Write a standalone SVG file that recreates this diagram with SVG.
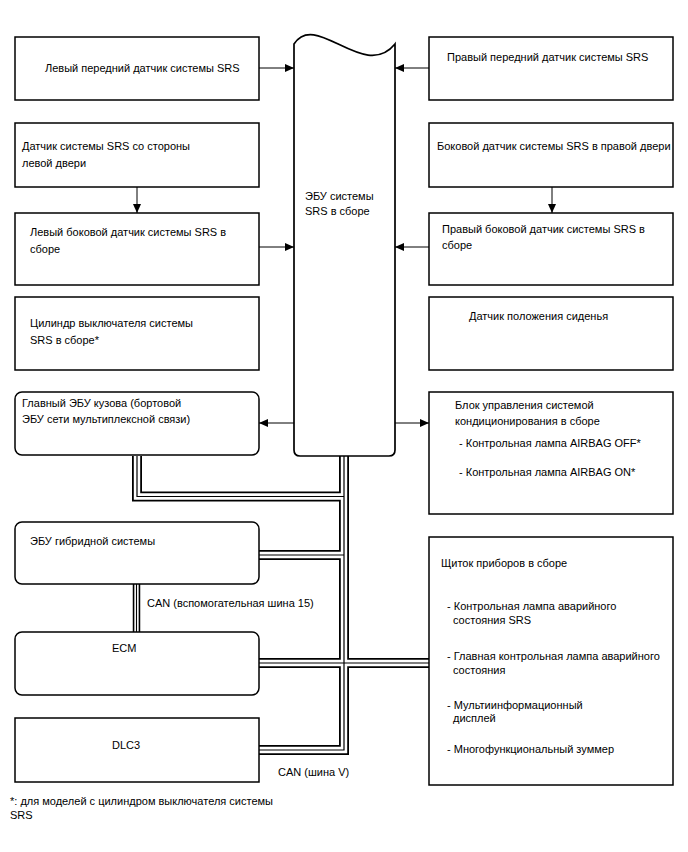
<svg xmlns="http://www.w3.org/2000/svg" xmlns:xlink="http://www.w3.org/1999/xlink" width="688" height="852" viewBox="0 0 688 852">
<style>
text{font-family:"Liberation Sans",Arial,sans-serif;font-size:11px;fill:#000}
.box{fill:#fff;stroke:#000;stroke-width:1.5}
.arr{stroke:#000;stroke-width:1;fill:none;marker-end:url(#ah)}
.bo{fill:none;stroke:#000;stroke-width:10;stroke-linejoin:miter}
.bi{fill:none;stroke:#fff;stroke-width:6.4;stroke-linejoin:miter}
.bc{fill:none;stroke:#000;stroke-width:1.2;stroke-linejoin:miter}
.to{fill:none;stroke:#000;stroke-width:7.5}
.ti{fill:none;stroke:#fff;stroke-width:4.3}
.tc{fill:none;stroke:#000;stroke-width:1.1}
</style>
<defs>
<marker id="ah" markerWidth="10" markerHeight="8" refX="9" refY="4" orient="auto" markerUnits="userSpaceOnUse">
<path d="M0,0 L9,4 L0,8 Z" fill="#000"/>
</marker>
<path id="b1" d="M137,456 V496.5 H344"/>
<path id="b2" d="M344,456 V750 H259"/>
<path id="b3" d="M259,555 H344"/>
<path id="b4" d="M259,663 H429"/>
<path id="b5" d="M136.5,584 V632"/>
</defs>

<g id="connectors">
<g id="bus">
<use xlink:href="#b1" class="bo"/><use xlink:href="#b2" class="bo"/><use xlink:href="#b3" class="bo"/><use xlink:href="#b4" class="bo"/>
<use xlink:href="#b5" class="to"/>
<use xlink:href="#b1" class="bi"/><use xlink:href="#b2" class="bi"/><use xlink:href="#b3" class="bi"/><use xlink:href="#b4" class="bi"/>
<use xlink:href="#b5" class="ti"/>
<use xlink:href="#b1" class="bc"/><use xlink:href="#b2" class="bc"/><use xlink:href="#b3" class="bc"/><use xlink:href="#b4" class="bc"/>
<use xlink:href="#b5" class="tc"/>
</g>
<line class="arr" x1="259" y1="68" x2="294" y2="68"/>
<line class="arr" x1="429" y1="68" x2="395" y2="68"/>
<line class="arr" x1="137" y1="187" x2="137" y2="213"/>
<line class="arr" x1="552" y1="187" x2="552" y2="213"/>
<line class="arr" x1="259" y1="247" x2="294" y2="247"/>
<line class="arr" x1="429" y1="247" x2="395" y2="247"/>
<line class="arr" x1="294" y1="423" x2="259" y2="423"/>
<line class="arr" x1="395" y1="423" x2="429" y2="423"/>
<text x="147" y="607">CAN (вспомогательная шина 15)</text>
<text x="278" y="776">CAN (шина V)</text>
</g>

<g id="srs-ecu">
<path class="box" d="M294,44 C316,10 364,82 395,44 V450 Q395,456 389,456 H300 Q294,456 294,450 Z" style="stroke-width:1.7"/>
<text x="305" y="200">ЭБУ системы</text>
<text x="305" y="215">SRS в сборе</text>
</g>

<g id="l1"><rect class="box" x="15" y="37" width="244" height="63"/><text x="45" y="72">Левый передний датчик системы SRS</text></g>
<g id="l2"><rect class="box" x="15" y="123" width="244" height="64"/><text x="22" y="150">Датчик системы SRS со стороны</text><text x="22" y="167">левой двери</text></g>
<g id="l3"><rect class="box" x="15" y="213" width="244" height="72"/><text x="30" y="236">Левый боковой датчик системы SRS в</text><text x="30" y="253">сборе</text></g>
<g id="l4"><rect class="box" x="15" y="297" width="244" height="73"/><text x="30" y="327">Цилиндр выключателя системы</text><text x="30" y="344">SRS в сборе*</text></g>
<g id="l5"><rect class="box" x="15" y="392" width="244" height="63" rx="7"/><text x="22" y="407">Главный ЭБУ кузова (бортовой</text><text x="22" y="423">ЭБУ сети мультиплексной связи)</text></g>
<g id="l6"><rect class="box" x="15" y="522" width="244" height="62" rx="7"/><text x="30" y="545">ЭБУ гибридной системы</text></g>
<g id="l7"><rect class="box" x="15" y="632" width="244" height="63" rx="7"/><text x="112" y="652">ECM</text></g>
<g id="l8"><rect class="box" x="15" y="718" width="244" height="64"/><text x="112" y="749">DLC3</text></g>

<g id="r1"><rect class="box" x="429" y="37" width="244" height="63"/><text x="447" y="61">Правый передний датчик системы SRS</text></g>
<g id="r2"><rect class="box" x="429" y="123" width="244" height="64"/><text x="437" y="150">Боковой датчик системы SRS в правой двери</text></g>
<g id="r3"><rect class="box" x="429" y="213" width="244" height="72"/><text x="442" y="233">Правый боковой датчик системы SRS в</text><text x="442" y="249">сборе</text></g>
<g id="r4"><rect class="box" x="429" y="297" width="244" height="73"/><text x="469" y="320">Датчик положения сиденья</text></g>
<g id="r5"><rect class="box" x="429" y="392" width="244" height="122"/><text x="455" y="409">Блок управления системой</text><text x="455" y="425">кондиционирования в сборе</text><text x="459" y="447">- Контрольная лампа AIRBAG OFF*</text><text x="459" y="476">- Контрольная лампа AIRBAG ON*</text></g>
<g id="r6"><rect class="box" x="429" y="537" width="244" height="248"/><text x="441" y="567">Щиток приборов в сборе</text><text x="447" y="610">- Контрольная лампа аварийного</text><text x="453" y="624">состояния SRS</text><text x="447" y="660">- Главная контрольная лампа аварийного</text><text x="453" y="674">состояния</text><text x="447" y="709">- Мультиинформационный</text><text x="453" y="722">дисплей</text><text x="447" y="753">- Многофункциональный зуммер</text></g>

<g id="footnote"><text x="10" y="805">*: для моделей с цилиндром выключателя системы</text><text x="10" y="819">SRS</text></g>
</svg>
